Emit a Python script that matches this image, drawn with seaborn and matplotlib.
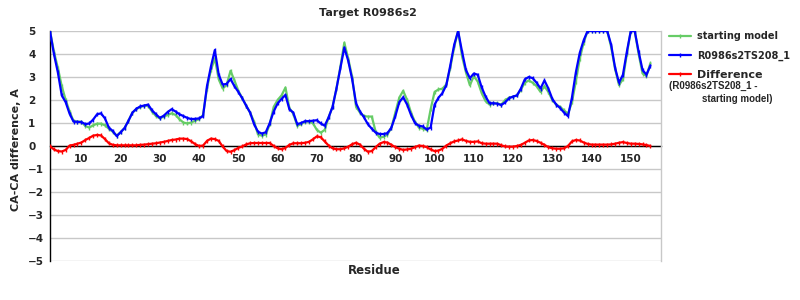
import numpy as np
import pandas as pd
import matplotlib
matplotlib.use("Agg")
import matplotlib.pyplot as plt
import seaborn as sns

residues = list(range(2, 156))

starting_model = [
    5.0, 4.1, 3.4, 2.6, 2.0, 1.5, 1.08, 1.06, 1.05, 0.87,
    0.8, 0.9, 0.97, 0.97, 0.9, 0.75, 0.62, 0.45, 0.6, 0.78,
    1.1, 1.45, 1.6, 1.7, 1.74, 1.75, 1.5, 1.3, 1.2, 1.28,
    1.35, 1.42, 1.35, 1.16, 1.02, 0.98, 1.02, 1.1, 1.17, 1.35,
    2.5, 3.3, 3.81, 2.9, 2.5, 2.65, 3.27, 2.85, 2.4, 2.07,
    1.75, 1.45, 1.06, 0.5, 0.45, 0.5, 0.95, 1.7, 2.0, 2.2,
    2.54, 1.65, 1.4, 0.88, 0.95, 1.06, 1.06, 0.99, 0.7, 0.58,
    0.7, 1.25, 1.7, 2.5, 3.45, 4.49, 3.8, 3.0, 1.7, 1.45,
    1.3, 1.28, 1.28, 0.61, 0.36, 0.4, 0.5, 0.8, 1.45, 2.1,
    2.4, 2.0, 1.45, 1.05, 0.8, 0.75, 0.7, 1.6, 2.35, 2.46,
    2.49, 2.68, 3.4, 4.3, 5.0, 3.9, 3.2, 2.64, 3.04, 2.8,
    2.3, 1.95, 1.8, 1.85, 1.85, 1.8, 2.0, 2.1, 2.14, 2.2,
    2.45, 2.75, 2.85, 2.75, 2.6, 2.35, 2.6, 2.35, 2.0, 1.8,
    1.7, 1.55, 1.4, 1.9, 2.8, 3.8, 4.5, 5.0, 5.0, 5.0,
    5.0, 5.0, 5.0, 4.3, 3.35, 2.65, 2.9, 4.0, 5.0, 5.0,
    4.0, 3.15, 3.05, 3.6,
]

model = [
    5.0, 4.0, 3.2, 2.2, 1.9, 1.4, 1.06, 1.05, 1.04, 0.95,
    0.98, 1.15, 1.38, 1.42, 1.2, 0.8, 0.65, 0.43, 0.6, 0.78,
    1.1, 1.45, 1.62, 1.72, 1.76, 1.8, 1.55, 1.38, 1.22, 1.32,
    1.48, 1.6, 1.5, 1.38, 1.3, 1.22, 1.17, 1.18, 1.2, 1.3,
    2.6, 3.45, 4.17, 3.1, 2.67, 2.7, 2.91, 2.6, 2.35, 2.07,
    1.75, 1.45, 0.95, 0.62, 0.54, 0.6, 1.0, 1.5, 1.85, 2.05,
    2.22, 1.6, 1.45, 0.95, 1.0, 1.08, 1.08, 1.1, 1.12, 0.98,
    0.88, 1.25, 1.7, 2.5, 3.4, 4.28, 3.7, 2.9, 1.85, 1.5,
    1.25, 0.95, 0.75, 0.58, 0.52, 0.52, 0.56, 0.8, 1.3, 1.9,
    2.12, 1.8, 1.35, 1.0, 0.88, 0.85, 0.72, 0.8, 1.8, 2.1,
    2.3, 2.65, 3.5, 4.4, 5.0, 4.1, 3.3, 2.95, 3.15, 3.1,
    2.55, 2.15, 1.86, 1.86, 1.84, 1.78, 1.9, 2.08, 2.15, 2.2,
    2.5, 2.9, 3.0, 2.95, 2.75, 2.5, 2.85, 2.5, 2.05, 1.8,
    1.65, 1.45, 1.3, 2.1, 3.2, 4.05, 4.6, 5.0, 5.0, 5.0,
    5.0, 5.0, 5.0, 4.4, 3.4, 2.75, 3.1, 4.1, 5.0, 5.0,
    4.1, 3.3, 3.1, 3.5,
]

difference = [
    0.0, -0.15, -0.22, -0.24, -0.17, 0.02, 0.05, 0.1, 0.15, 0.26,
    0.35, 0.45, 0.48, 0.46, 0.3, 0.12, 0.05, 0.03, 0.03, 0.03,
    0.03, 0.03, 0.03, 0.05, 0.06, 0.08, 0.1, 0.12, 0.15, 0.18,
    0.22, 0.26, 0.28, 0.32, 0.32, 0.3, 0.2, 0.08, 0.0, 0.02,
    0.22, 0.32, 0.3, 0.22, -0.02, -0.22, -0.25, -0.18, -0.08, -0.02,
    0.07, 0.12, 0.13, 0.13, 0.13, 0.13, 0.13, 0.0, -0.1, -0.14,
    -0.08, 0.05, 0.12, 0.12, 0.12, 0.14, 0.18, 0.29, 0.42, 0.38,
    0.2, 0.02, -0.1, -0.14, -0.14, -0.1, -0.03, 0.08, 0.14, 0.06,
    -0.12, -0.25, -0.22, -0.05, 0.1, 0.17, 0.15, 0.05, -0.05, -0.12,
    -0.17, -0.15, -0.12, -0.05, 0.02, 0.0, -0.05, -0.15, -0.22, -0.2,
    -0.12, 0.02, 0.12, 0.2, 0.24, 0.29, 0.22, 0.18, 0.18, 0.2,
    0.12, 0.1, 0.1, 0.1, 0.1, 0.03, -0.02, -0.03, -0.03, 0.0,
    0.05, 0.14, 0.24, 0.26, 0.22, 0.14, 0.05, -0.05, -0.1, -0.12,
    -0.12, -0.1, 0.0, 0.2, 0.26, 0.24, 0.15, 0.09, 0.06, 0.06,
    0.06, 0.06, 0.06, 0.07, 0.1, 0.14, 0.17, 0.13, 0.1, 0.1,
    0.09, 0.07, 0.04, 0.0,
]

series_names = ["starting model", "R0986s2TS208_1", "Difference"]
series_colors = ["#66CC66", "#0000FF", "#FF0000"]
x_ticks = list(range(10, 160, 10))
y_ticks = list(range(-5, 6))

df = pd.DataFrame({
    "Residue": residues * 3,
    "value": starting_model + model + difference,
    "series": [series_names[0]] * len(residues) + [series_names[1]] * len(residues)
              + [series_names[2]] * len(residues),
})

sns.set_theme(style="white")
plt.rcParams["font.family"] = ["DejaVu Sans"]

fig = plt.figure(figsize=(8, 3), dpi=100)
ax = fig.add_axes([50 / 800, 1 - 261 / 300, (661 - 50) / 800, (261 - 31) / 300])

for name, color in zip(series_names, series_colors):
    sub = df[df["series"] == name]
    sns.lineplot(data=sub, x="Residue", y="value", ax=ax, color=color, label=name,
                 linewidth=1.6, marker="|", markersize=3.5, markeredgewidth=1.0,
                 markeredgecolor=color, zorder=3)

ax.set_xlim(2, 157.7)
ax.set_ylim(-5, 5)
ax.set_xticks(x_ticks)
ax.set_yticks(y_ticks)
ax.set_xlabel("")
ax.set_ylabel("")
ax.grid(axis="y", color="#C8C8C8", linewidth=1.0, zorder=0)
ax.grid(axis="x", visible=False)

ax.spines["top"].set_visible(False)
ax.spines["right"].set_color("#C8C8C8")
ax.spines["right"].set_linewidth(1.0)
ax.spines["left"].set_color("black")
ax.spines["left"].set_linewidth(1.0)
ax.spines["bottom"].set_position(("data", 0))
ax.spines["bottom"].set_color("black")
ax.spines["bottom"].set_linewidth(1.0)
ax.spines["bottom"].set_zorder(2)

ax.tick_params(axis="x", length=0, pad=6, labelsize=7.5)
ax.tick_params(axis="y", length=0, pad=15.8, labelsize=7.5)
for lab in ax.get_xticklabels() + ax.get_yticklabels():
    lab.set_fontweight("bold")
for lab in ax.get_yticklabels():
    lab.set_horizontalalignment("left")

ax.get_legend().remove()
handles, labels = ax.get_legend_handles_labels()
leg = fig.legend(handles, labels, loc="upper left",
                 bbox_to_anchor=(669 / 800, 1 - 31 / 300), frameon=False,
                 borderpad=0, borderaxespad=0, handlelength=2.25, handletextpad=0.6,
                 labelspacing=0.95, prop={"family": "DejaVu Sans", "weight": "bold", "size": 7})
for line in leg.get_lines():
    line.set_linewidth(1.6)
    line.set_marker("|")
leg.get_texts()[2].set_fontsize(8)

fig.text(669 / 800, 1 - 86 / 300, "(R0986s2TS208_1 -", ha="left", va="center",
         family="Liberation Sans", weight="bold", fontsize=7)
fig.text(702 / 800, 1 - 98.5 / 300, "starting model)", ha="left", va="center",
         family="Liberation Sans", weight="bold", fontsize=7)

fig.text(368 / 800, 1 - 13 / 300, "Target R0986s2", ha="center", va="center",
         weight="bold", fontsize=8)
fig.text(374.5 / 800, 1 - 271 / 300, "Residue", ha="center", va="center",
         weight="bold", fontsize=8.5)
fig.text(16 / 800, 1 - 150 / 300, "CA-CA difference, A", ha="center", va="center",
         rotation=90, weight="bold", fontsize=8)

fig.savefig("out.png", dpi=100, facecolor="white")
